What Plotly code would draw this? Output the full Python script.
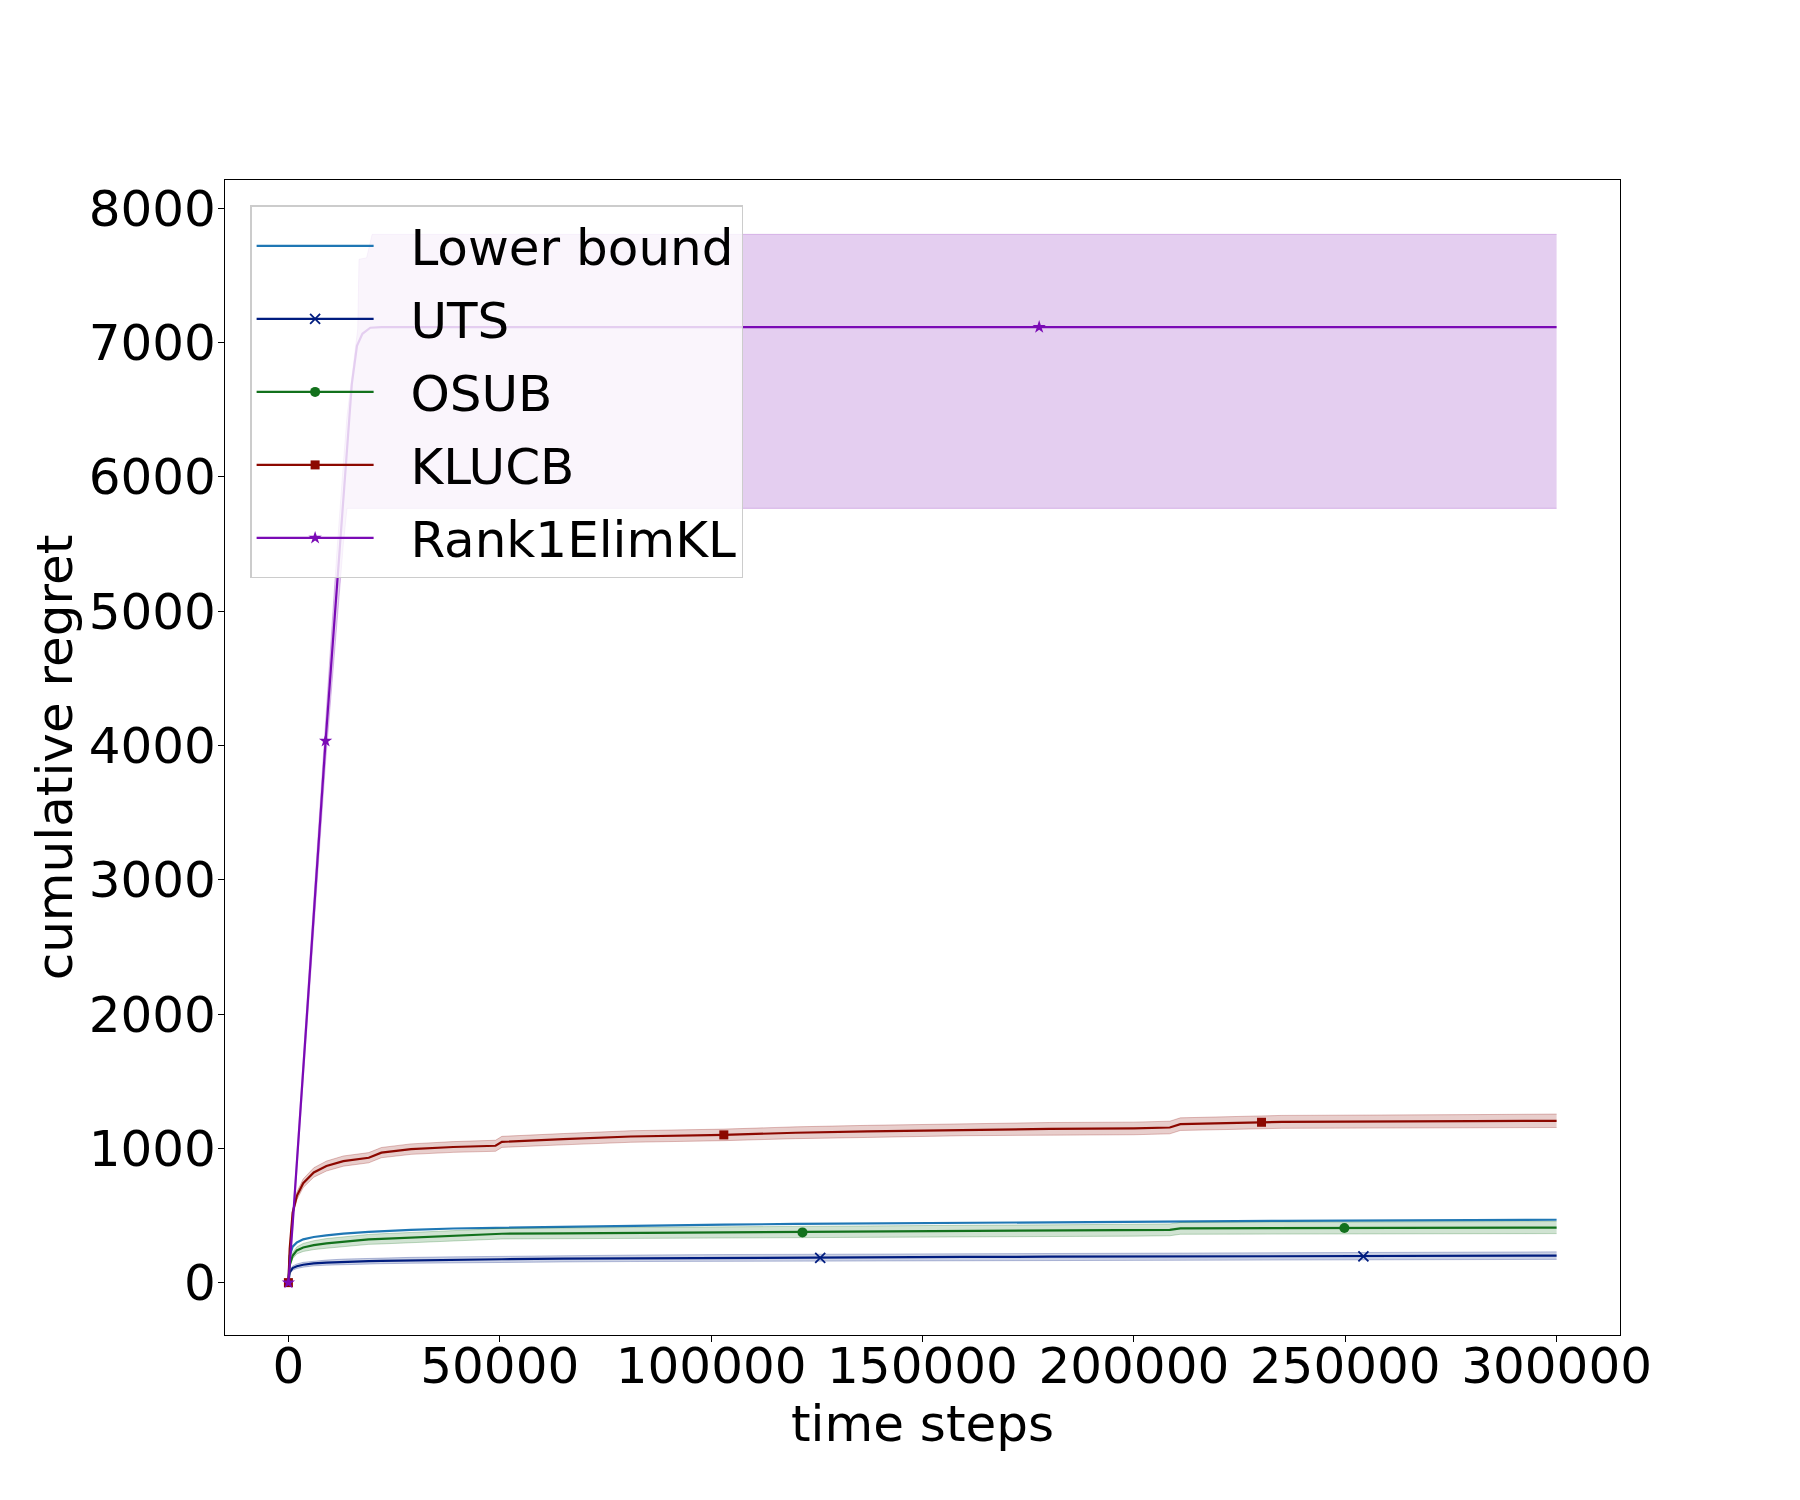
import plotly.graph_objects as go

# ---------------- data ----------------
t_grid = [0, 300, 1000, 2000, 3500, 6000, 9000, 13000, 19000, 22000, 29000, 39000,
          49000, 50500, 65000, 81000, 103000, 120000, 137000, 145000, 160000, 180000,
          200000, 208500, 211000, 222000, 235000, 280000, 300000]

lower_bound = [0, 200, 268, 299, 322, 340, 352, 365, 378, 383, 393, 403,
               408, 409, 418, 425, 432, 437, 441, 443, 446, 450,
               454, 455, 456, 458, 460, 466, 468]

uts_mean = [0, 76, 108, 122, 133, 143, 149, 155, 160, 162, 166, 170,
            173, 174, 178, 181, 184, 186, 188, 189, 191, 193,
            195, 196, 196, 197, 198, 200, 201]
uts_upper = [0, 88, 124, 139, 151, 161, 168, 175, 181, 183, 188, 192,
             196, 197, 202, 205, 209, 211, 214, 215, 217, 220,
             222, 223, 223, 224, 225, 228, 229]
uts_lower = [0, 64, 92, 105, 115, 125, 130, 135, 139, 141, 144, 148,
             150, 151, 154, 157, 159, 161, 162, 163, 165, 166,
             168, 169, 169, 170, 171, 172, 173]

osub_mean = [0, 130, 200, 240, 262, 279, 292, 305, 322, 326, 335, 345,
             362, 364, 367, 370, 372, 374, 378, 380, 384, 387,
             390, 393, 404, 405, 406, 409, 410]
osub_upper = [0, 145, 222, 266, 292, 312, 328, 342, 359, 364, 373, 384,
              401, 403, 407, 411, 413, 416, 420, 422, 427, 430,
              434, 437, 448, 449, 450, 453, 455]
osub_lower = [0, 115, 178, 214, 232, 246, 256, 268, 285, 288, 297, 306,
              323, 325, 327, 329, 331, 332, 336, 338, 341, 344,
              346, 349, 360, 361, 362, 365, 365]

klucb_mean = [0, 250, 520, 646, 740, 820, 868, 905, 930, 968, 994, 1010,
              1019, 1048, 1068, 1088, 1100, 1116, 1126, 1130, 1140, 1145,
              1148, 1155, 1180, 1188, 1197, 1202, 1205]
klucb_upper = [0, 265, 545, 675, 772, 855, 905, 943, 968, 1006, 1033, 1050,
               1060, 1089, 1110, 1131, 1143, 1160, 1171, 1175, 1186, 1192,
               1195, 1202, 1227, 1236, 1245, 1251, 1255]
klucb_lower = [0, 235, 495, 617, 708, 785, 831, 867, 892, 930, 955, 970,
               978, 1007, 1026, 1045, 1057, 1072, 1081, 1085, 1094, 1098,
               1101, 1108, 1133, 1140, 1149, 1153, 1155]

rank1_t = [0, 1090, 8800, 11490, 12680, 15000, 16220, 17500, 19370, 22000, 300000]
rank1_mean = [0, 473, 4034, 5189, 5760, 6690, 6975, 7065, 7110, 7115, 7115]
rank1_band_t = [0, 1090, 8800, 11490, 13000, 13860, 16400, 16700, 18500, 19800, 300000]
rank1_upper = [0, 520, 4200, 5450, 6100, 6450, 7100, 7620, 7630, 7805, 7805]
rank1_lower = [0, 430, 3880, 4950, 5500, 5765, 5765, 5765, 5765, 5765, 5765]

# marker positions (markevery-style)
uts_mark_t, uts_mark_v = [125800, 254300], [185, 196]
osub_mark_t, osub_mark_v = [121600, 249800], [374, 407]
klucb_mark_t, klucb_mark_v = [0, 103000, 230200], [0, 1100, 1194]
rank1_mark_t, rank1_mark_v = [0, 8800, 177600], [0, 4034, 7115]

series_names = ["Lower bound", "UTS", "OSUB", "KLUCB", "Rank1ElimKL"]
x_ticks = [0, 50000, 100000, 150000, 200000, 250000, 300000]
y_ticks = [0, 1000, 2000, 3000, 4000, 5000, 6000, 7000, 8000]

# ---------------- styles ----------------
C_LB = "#1f77b4"
C_UTS = "#001c7f"
C_OSUB = "#12711c"
C_KL = "#8c0800"
C_R1 = "#7a0ab5"


def rgba(hexc, a):
    h = hexc.lstrip("#")
    r, g, b = int(h[0:2], 16), int(h[2:4], 16), int(h[4:6], 16)
    return f"rgba({r},{g},{b},{a})"


FONT = "DejaVu Sans"
FS = 50
fig = go.Figure()


def add_band(x, up, lo, color):
    fig.add_trace(go.Scatter(x=x, y=up, mode="lines", showlegend=False, hoverinfo="skip",
                             line=dict(color=rgba(color, 0.25), width=1)))
    fig.add_trace(go.Scatter(x=x, y=lo, mode="lines", showlegend=False, hoverinfo="skip",
                             fill="tonexty", fillcolor=rgba(color, 0.2),
                             line=dict(color=rgba(color, 0.25), width=1)))


def add_line(x, y, color):
    fig.add_trace(go.Scatter(x=x, y=y, mode="lines", showlegend=False,
                             line=dict(color=color, width=2.2)))


def add_marks(x, y, color, symbol, size, lw=0):
    fig.add_trace(go.Scatter(x=x, y=y, mode="markers", showlegend=False,
                             marker=dict(color=color, symbol=symbol, size=size,
                                         line=dict(color=color, width=lw))))


# Lower bound
add_line(t_grid, lower_bound, C_LB)
# UTS
add_band(t_grid, uts_upper, uts_lower, C_UTS)
add_line(t_grid, uts_mean, C_UTS)
add_marks(uts_mark_t, uts_mark_v, C_UTS, "x-thin", 10, 1.8)
# OSUB
add_band(t_grid, osub_upper, osub_lower, C_OSUB)
add_line(t_grid, osub_mean, C_OSUB)
add_marks(osub_mark_t, osub_mark_v, C_OSUB, "circle", 10)
# KLUCB
add_band(t_grid, klucb_upper, klucb_lower, C_KL)
add_line(t_grid, klucb_mean, C_KL)
add_marks(klucb_mark_t, klucb_mark_v, C_KL, "square", 9)
# Rank1ElimKL
add_band(rank1_band_t, rank1_upper, rank1_lower, C_R1)
add_line(rank1_t, rank1_mean, C_R1)
add_marks(rank1_mark_t, rank1_mark_v, C_R1, "star", 10)

# legend entries
legend_styles = [
    (C_LB, None, 0, 0),
    (C_UTS, "x-thin", 10, 1.8),
    (C_OSUB, "circle", 10, 0),
    (C_KL, "square", 9, 0),
    (C_R1, "star", 10, 0),
]
PAD = "\u00a0\u00a0"
for name, (col, sym, sz, lw) in zip(series_names, legend_styles):
    if sym is None:
        fig.add_trace(go.Scatter(x=[None], y=[None], mode="lines", name=PAD + name,
                                 legendgroup=name, line=dict(color=col, width=2.2)))
    else:
        fig.add_trace(go.Scatter(x=[None], y=[None], mode="lines+markers", name=PAD + name,
                                 legendgroup=name, line=dict(color=col, width=2.2),
                                 marker=dict(color=col, symbol=sym, size=sz,
                                             line=dict(color=col, width=lw))))

axis_common = dict(
    showline=True, mirror=True, linecolor="black", linewidth=1.2,
    ticks="outside", ticklen=6, tickwidth=1.2, tickcolor="black",
    showgrid=False, zeroline=False,
    tickfont=dict(family=FONT, size=FS, color="black"),
)

# the page body adds an 8px offset; margins compensate for it
fig.update_layout(
    width=1800, height=1500,
    margin=dict(l=217, r=188, t=172, b=173, autoexpand=False),
    paper_bgcolor="white", plot_bgcolor="white",
    font=dict(family=FONT, size=FS, color="black"),
    xaxis=dict(range=[-15000, 315000], tickvals=x_ticks,
               ticktext=[str(v) for v in x_ticks],
               ticklabelstandoff=-19,
               title=dict(text="time steps", font=dict(family=FONT, size=FS), standoff=4),
               automargin=False, **axis_common),
    yaxis=dict(range=[-390, 8210], tickvals=y_ticks,
               ticktext=[str(v) for v in y_ticks],
               ticklabelstandoff=-8,
               title=dict(text="cumulative regret", font=dict(family=FONT, size=FS), standoff=0),
               automargin=False, **axis_common),
    legend=dict(x=0.018, y=0.978, xanchor="left", yanchor="top",
                bgcolor="rgba(255,255,255,0.8)", bordercolor="#cccccc", borderwidth=1.5,
                font=dict(family=FONT, size=FS, color="black"),
                itemwidth=117, tracegroupgap=5, traceorder="grouped"),
    showlegend=True,
)

fig.write_html("out.html")
